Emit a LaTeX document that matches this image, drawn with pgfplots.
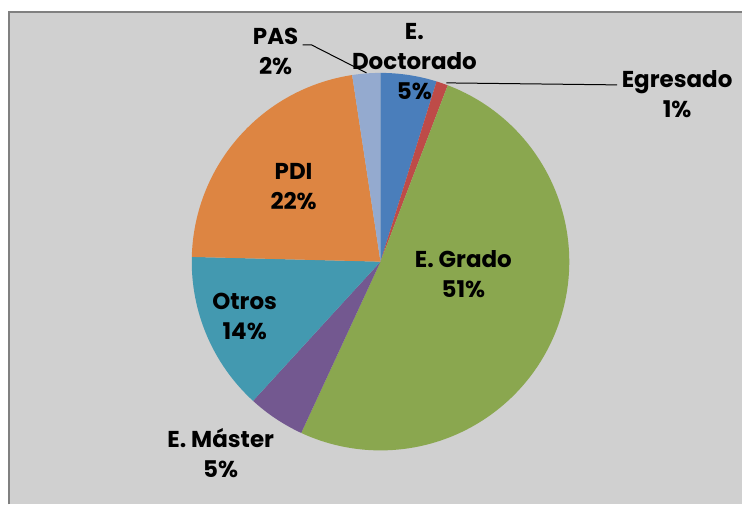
\documentclass[border=0pt]{standalone}
\usepackage{pgfplots}
\pgfplotsset{compat=1.18}
\usepackage{pgfplotstable}
\usepackage{fontspec}
\setmainfont{Poppins}
\definecolor{bg}{HTML}{D0D0D0}
\definecolor{frame}{HTML}{808080}
\definecolor{cDoc}{HTML}{4A7EBB}
\definecolor{cEgr}{HTML}{BE4B48}
\definecolor{cGra}{HTML}{8AA74F}
\definecolor{cMas}{HTML}{735890}
\definecolor{cOtr}{HTML}{4399B0}
\definecolor{cPDI}{HTML}{DD8542}
\definecolor{cPAS}{HTML}{94AACF}
\pgfplotstableread[col sep=comma]{
label,value,color
EDoctorado,4.8,cDoc
Egresado,1.0,cEgr
EGrado,51.1,cGra
EMaster,4.9,cMas
Otros,13.6,cOtr
PDI,22.2,cPDI
PAS,2.4,cPAS
}\pietable
\begin{document}
\begin{tikzpicture}
\begin{axis}[
  width=743bp, height=505bp, scale only axis,
  xmin=0, xmax=743, ymin=0, ymax=505, y dir=reverse,
  hide axis, clip=false,
]
\fill[white] (axis cs:0,0) rectangle (axis cs:743,505);
\fill[bg] (axis cs:8,11) rectangle (axis cs:743,505);
\draw[frame, line width=2bp] (axis cs:9,505) -- (axis cs:9,12) -- (axis cs:743,12);
\def\cum{0}
\pgfplotsforeachungrouped \i in {0,...,6}{%
  \pgfplotstablegetelem{\i}{value}\of\pietable \let\v\pgfplotsretval
  \pgfplotstablegetelem{\i}{color}\of\pietable \let\c\pgfplotsretval
  \pgfmathsetmacro\a{90-3.6*\cum}%
  \pgfmathsetmacro\b{90-3.6*(\cum+\v)}%
  \edef\temp{\noexpand\fill[\c] (axis cs:381,262) -- ++(\a:189bp) arc[start angle=\a, end angle=\b, radius=189bp] -- cycle;}%
  \temp
  \pgfmathsetmacro\cum{\cum+\v}%
}
\draw[black, line width=1bp] (axis cs:447,83) -- (axis cs:618,85);
\draw[black, line width=1bp] (axis cs:303,45) -- (axis cs:312,45) -- (axis cs:367,73);
\tikzset{lbl/.style={anchor=base, font=\fontsize{23bp}{28bp}\selectfont\bfseries, inner sep=0pt}}
\node[lbl] at (axis cs:415,40) {E.};
\node[lbl] at (axis cs:415,70) {Doctorado};
\node[lbl] at (axis cs:415,100) {5\%};
\node[lbl] at (axis cs:678,87.5) {Egresado};
\node[lbl] at (axis cs:678,117.5) {1\%};
\node[lbl] at (axis cs:276,45) {PAS};
\node[lbl] at (axis cs:276,75) {2\%};
\node[lbl] at (axis cs:294,180) {PDI};
\node[lbl] at (axis cs:294,210) {22\%};
\node[lbl] at (axis cs:464,268) {E. Grado};
\node[lbl] at (axis cs:464,298) {51\%};
\node[lbl] at (axis cs:245,310) {Otros};
\node[lbl] at (axis cs:245,340) {14\%};
\node[lbl] at (axis cs:221,448) {E. Máster};
\node[lbl] at (axis cs:221,478) {5\%};
\end{axis}
\end{tikzpicture}
\end{document}
